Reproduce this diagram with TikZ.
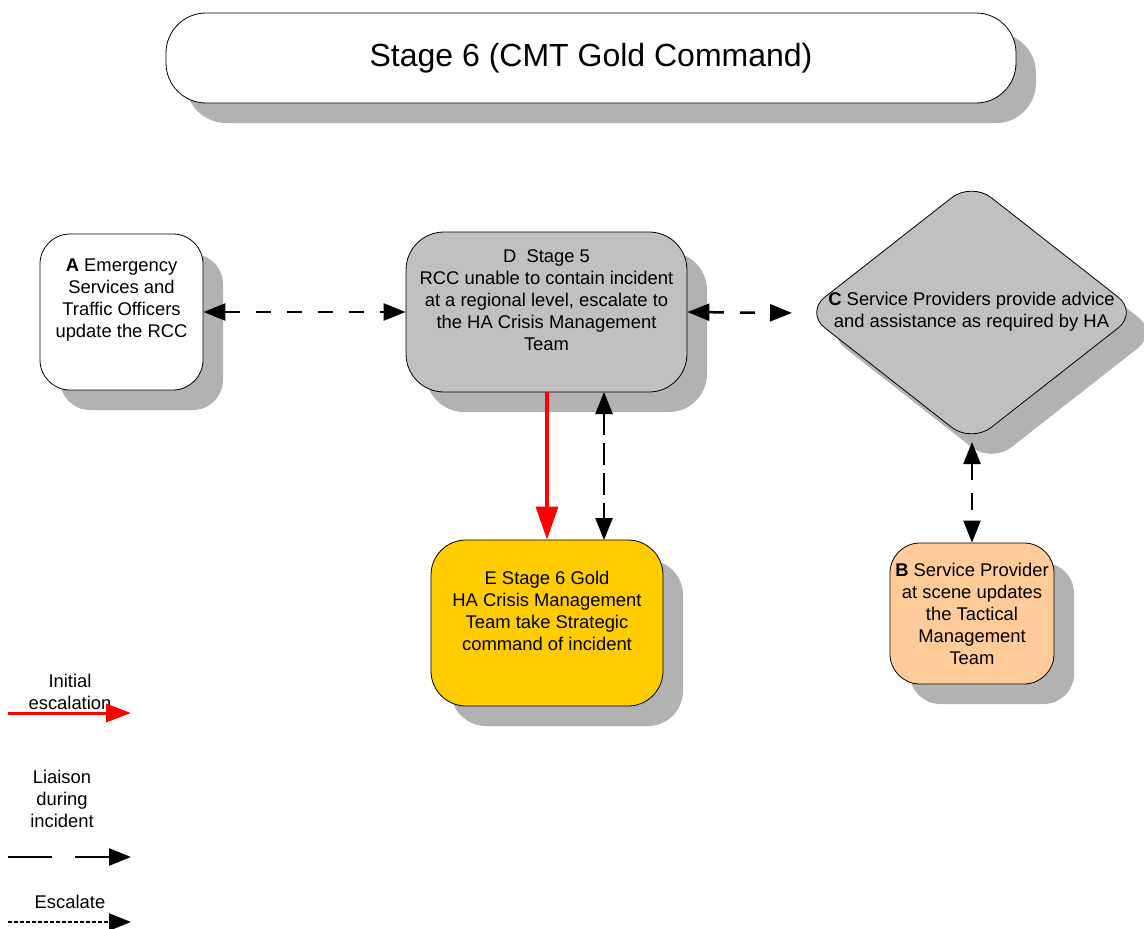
\documentclass[tikz,border=0pt]{standalone}
\usepackage{fontspec}
\setmainfont{Liberation Sans}
\usetikzlibrary{arrows.meta,shapes.geometric,shadows}
\definecolor{boxgray}{HTML}{C0C0C0}
\definecolor{shadegray}{HTML}{B2B2B2}
\definecolor{gold}{HTML}{FFCC00}
\definecolor{peach}{HTML}{FFCC99}

\begin{document}
\begin{tikzpicture}[x=1pt, y=-1pt,
    >={Triangle[length=22pt,width=17pt]},
    boxshadow/.style={drop shadow={shadow xshift=20pt, shadow yshift=-20pt, fill=shadegray, opacity=1}},
    stagebox/.style={draw, line width=0.8pt, inner sep=0pt, boxshadow},
    roundbox/.style={stagebox, rectangle, rounded corners=#1},
    rdiamond/.style={stagebox, diamond, rounded corners=25pt, fill=boxgray},
    txt/.style={align=center, inner sep=0pt, font=\fontsize{18.4}{22}\selectfont},
    liaison/.style={<->, line width=2.5pt, dash pattern=on 15pt off 16pt},
    initial/.style={red, line width=3.5pt, -{Triangle[length=33pt,width=22pt]}},
    escalate/.style={line width=2.5pt, dash pattern=on 4pt off 2pt, ->},
]
    \useasboundingbox (0,0) rectangle (1144,929);

    % title
    \node[roundbox=40pt, fill=white, minimum width=850pt, minimum height=90pt,
          font=\fontsize{32}{38}\selectfont] (title) at (591,58) {Stage 6 (CMT Gold Command)};

    % stages
    \node[roundbox=30pt, fill=white, minimum width=163pt, minimum height=156pt] (A) at (121.5,312) {};
    \node[roundbox=38pt, fill=boxgray, minimum width=281pt, minimum height=160pt] (D) at (546.5,312) {};
    \node[rdiamond, minimum width=333pt, minimum height=261pt] (C) at (971.5,312.5) {};
    \node[roundbox=35pt, fill=gold, minimum width=232pt, minimum height=166pt] (E) at (547,623) {};
    \node[roundbox=30pt, fill=peach, minimum width=164pt, minimum height=141pt] (B) at (972,613.5) {};

    \node[txt, yshift=12pt] (Atext) at (A) {\textbf{A} Emergency\\Services and\\Traffic Officers\\update the RCC};
    \node[txt, yshift=12pt] (Dtext) at (D) {D\ \ Stage 5\\RCC unable to contain incident\\at a regional level, escalate to\\the HA Crisis Management\\Team};
    \node[txt, yshift=1pt] (Ctext) at (C) {\textbf{C} Service Providers provide advice\\and assistance as required by HA};
    \node[txt, yshift=12pt] (Etext) at (E) {E Stage 6 Gold\\HA Crisis Management\\Team take Strategic\\command of incident};
    \node[txt] (Btext) at (B) {\textbf{B} Service Provider\\at scene updates\\the Tactical\\Management\\Team};

    % connectors
    \coordinate (Cw) at (792,313);
    \coordinate (Cs) at (972,442);
    \coordinate (Dr) at (604,392);
    \coordinate (Er) at (604,540);

    \draw[liaison] (A.east) -- (D.west);
    \draw[liaison] (D.east) -- (Cw);
    \draw[initial] (E.north |- D.south) -- (E.north);
    \draw[liaison, dash pattern=on 22pt off 8pt] (Dr) -- (Er);
    \draw[liaison, dash pattern=on 17pt off 13pt] (Cs) -- (B.north);

    % legend
    \node[txt] (key1) at (70,692) {Initial\\escalation};
    \node[txt] (key2) at (62,799) {Liaison\\during\\incident};
    \node[txt] (key3) at (70,902) {Escalate};

    \coordinate (k1a) at (8,713);
    \coordinate (k1b) at (131,713);
    \coordinate (k2a) at (8,857);
    \coordinate (k2b) at (131,857);
    \coordinate (k3a) at (8,922);
    \coordinate (k3b) at (131,922);

    \draw[red, line width=3pt, -{Triangle[length=25pt,width=18pt]}] (k1a) -- (k1b);
    \draw[line width=2.5pt, dash pattern=on 44pt off 23pt, ->] (k2a) -- (k2b);
    \draw[escalate] (k3a) -- (k3b);

\end{tikzpicture}
\end{document}
